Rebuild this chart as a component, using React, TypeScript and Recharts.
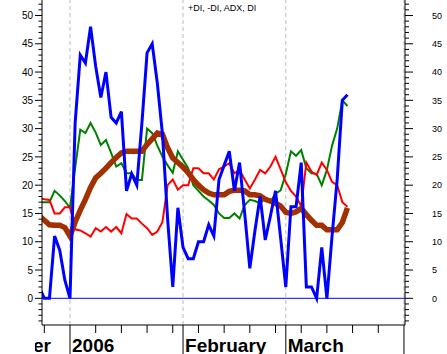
import React from 'react';
import { LineChart, Line, XAxis, YAxis, ReferenceLine } from 'recharts';

// weekday index: 0 = Mon 2 Jan 2006 (weekends skipped)
const dayIndex = [
  -6, -5, -4, -3, -2, -1, 0, 1, 2, 3, 4, 5, 6, 7, 8, 9, 10, 11, 12, 13, 14, 15, 16, 17, 18, 19,
  20, 21, 22, 23, 24, 25, 26, 27, 28, 29, 30, 31, 32, 33, 34, 35, 36, 37, 38, 39, 40, 41, 42, 43,
  44, 45, 46, 47, 48, 49, 50, 51, 52, 53, 54,
];

const plusDI = [
  17, 17, 17, 19, 18.2, 17.2, 16, 23, 29.8, 29.2, 31, 29.3, 27.1, 28, 25.7, 23.3, 23.9, 22.1, 22.1,
  20.9, 20.9, 30, 29.2, 27, 25, 23.5, 22.2, 26, 24.5, 23, 20, 19, 18, 17.3, 16.5, 15, 14.2, 14.2,
  15, 14.1, 16.5, 17.4, 17.2, 16.8, 17.7, 17.1, 18.5, 19.1, 22, 26, 25.2, 26.2, 23, 22.1, 22, 20,
  22.7, 27, 30, 35, 34,
];

const minusDI = [
  17.7, 17.5, 17.4, 15, 15, 16.1, 16.1, 12.2, 12, 11.5, 10.9, 12.4, 11.8, 12.6, 11.8, 12.6, 11.5,
  14.9, 14.1, 14.1, 13.2, 12.4, 11.2, 11.8, 13.5, 20, 21, 19.2, 20, 20, 23, 23, 22.1, 22.1, 21,
  22.8, 23.3, 23.9, 22.1, 22.7, 21, 19.4, 21, 22.7, 22.1, 23.3, 25, 22.8, 20.5, 19, 18, 16.3, 24,
  22.4, 21.8, 24, 22.7, 20.6, 20, 17, 16.2,
];

const adx = [
  14.6, 13.8, 13, 12.9, 12.9, 12.5, 11, 13.5, 15.6, 17.5, 19.6, 21.3, 22.1, 23, 24, 24.9, 25.7, 26,
  26, 26, 26, 27.2, 28.2, 29.2, 29, 26.6, 24.8, 24, 23.2, 22.2, 21, 20, 19.2, 18.6, 18.3, 18.3,
  18.3, 18.9, 19.1, 19.1, 19, 18.3, 18.3, 18.1, 17.5, 17.2, 16.8, 16.3, 15.2, 15, 15.3, 15.9, 14.8,
  13.8, 12.9, 12.9, 12.1, 12.1, 12.1, 13.4, 16,
];

const di = [
  2, 0, 0, 11, 8.5, 3.2, 0, 31, 43, 41.6, 48, 41, 35.5, 40, 32, 31, 33, 19, 22, 20, 31, 43.4, 45,
  38, 29, 14, 2, 16, 9, 7, 7, 10, 10, 13, 11, 21, 23.5, 26, 19, 24, 15, 5.3, 12, 18, 10.3, 14.5,
  19, 10.6, 2, 16.2, 16.2, 24, 2, 2, 0, 9, 0, 11, 21, 35, 36,
];

const monthStarts = [-22, 0, 22, 42, 65];
const monthLabels = ['December', '2006', 'February', 'March', ''];
const weekTicks = [-5, 0, 5, 10, 15, 20, 25, 30, 35, 40, 45, 50, 55, 60, 65];
const xTicks = [-22, ...weekTicks, 22, 42].sort((a, b) => a - b);
const yTicks: number[] = [];
for (let v = -4; v <= 52; v++) yTicks.push(v);

const title = '+DI, -DI, ADX, DI';

const rows = dayIndex.map((i, k) => ({
  i,
  plusDI: plusDI[k],
  minusDI: minusDI[k],
  adx: adx[k],
  di: di[k],
}));

const FONT = 'Liberation Sans, Arial, sans-serif';

const XTick = (props: any) => {
  const { x, y, payload } = props;
  const v = payload.value;
  const mi = monthStarts.indexOf(v);
  const isMonth = mi >= 0;
  const label = isMonth ? monthLabels[mi] : '';
  const cid = `xlc${mi}`;
  return (
    <g>
      <line x1={x} x2={x} y1={y} y2={isMonth ? y + 29 : y + 8} stroke="#000" strokeWidth={1} />
      {label !== '' && (
        <g>
          <defs>
            <clipPath id={cid}>
              <rect x={35} y={y} width={370} height={29} />
            </clipPath>
          </defs>
          <text
            x={x + 2}
            y={y + 26.5}
            fontFamily={FONT}
            fontWeight="bold"
            fontSize={19}
            fill="#000"
            clipPath={`url(#${cid})`}
          >
            {label}
          </text>
        </g>
      )}
    </g>
  );
};

const LeftTick = (props: any) => {
  const { x, y, payload } = props;
  const v = payload.value;
  const major = v % 5 === 0;
  return (
    <g>
      <line x1={x - (major ? 7 : 3.5)} x2={x} y1={y} y2={y} stroke="#000" strokeWidth={1} />
      {major && v >= 0 && (
        <text x={x - 9} y={y + 3.6} textAnchor="end" fontFamily={FONT} fontSize={10} fill="#000">
          {v}
        </text>
      )}
    </g>
  );
};

const RightTick = (props: any) => {
  const { x, y, payload } = props;
  const v = payload.value;
  const major = v % 5 === 0;
  return (
    <g>
      <line x1={x} x2={x + (major ? 8 : 4)} y1={y} y2={y} stroke="#000" strokeWidth={1} />
      {major && v >= 0 && (
        <text x={x + 27} y={y + 3.3} textAnchor="start" fontFamily={FONT} fontSize={9} fill="#000">
          {v}
        </text>
      )}
    </g>
  );
};

export default function App() {
  return (
    <div style={{ position: 'absolute', left: 0, top: 0, background: '#fff' }}>
      <LineChart width={447} height={354} data={rows} margin={{ top: 0, right: 0, bottom: 0, left: 0 }}>
        <XAxis
          dataKey="i"
          type="number"
          domain={[-5.45, 65.2]}
          allowDataOverflow
          ticks={xTicks}
          interval={0}
          height={29}
          tickLine={false}
          tickSize={0}
          tickMargin={0}
          axisLine={{ stroke: '#000' }}
          tick={<XTick />}
        />
        <YAxis
          yAxisId="l"
          orientation="left"
          width={42}
          type="number"
          domain={[-4.72, 52.74]}
          allowDataOverflow
          ticks={yTicks}
          interval={0}
          tickLine={false}
          tickSize={0}
          tickMargin={0}
          axisLine={{ stroke: '#000' }}
          tick={<LeftTick />}
        />
        <YAxis
          yAxisId="r"
          orientation="right"
          width={42}
          type="number"
          domain={[-4.72, 52.74]}
          allowDataOverflow
          ticks={yTicks}
          interval={0}
          tickLine={false}
          tickSize={0}
          tickMargin={0}
          axisLine={{ stroke: '#000' }}
          tick={<RightTick />}
        />
        {monthStarts.map((m) => (
          <ReferenceLine
            key={m}
            yAxisId="l"
            x={m}
            stroke="#BBBBBB"
            strokeDasharray="4 3"
            ifOverflow="hidden"
          />
        ))}
        <ReferenceLine yAxisId="l" y={0} stroke="#0000FF" strokeWidth={1} />
        <Line yAxisId="l" type="linear" dataKey="plusDI" stroke="#008000" strokeWidth={2} dot={false} isAnimationActive={false} />
        <Line yAxisId="l" type="linear" dataKey="minusDI" stroke="#FF0000" strokeWidth={2} dot={false} isAnimationActive={false} />
        <Line yAxisId="l" type="linear" dataKey="adx" stroke="#A33000" strokeWidth={5.5} dot={false} isAnimationActive={false} />
        <Line yAxisId="l" type="linear" dataKey="di" stroke="#0000FF" strokeWidth={3} dot={false} isAnimationActive={false} />
        <text x={188} y={11} fontFamily={FONT} fontSize={9} fill="#000">
          {title}
        </text>
      </LineChart>
    </div>
  );
}
